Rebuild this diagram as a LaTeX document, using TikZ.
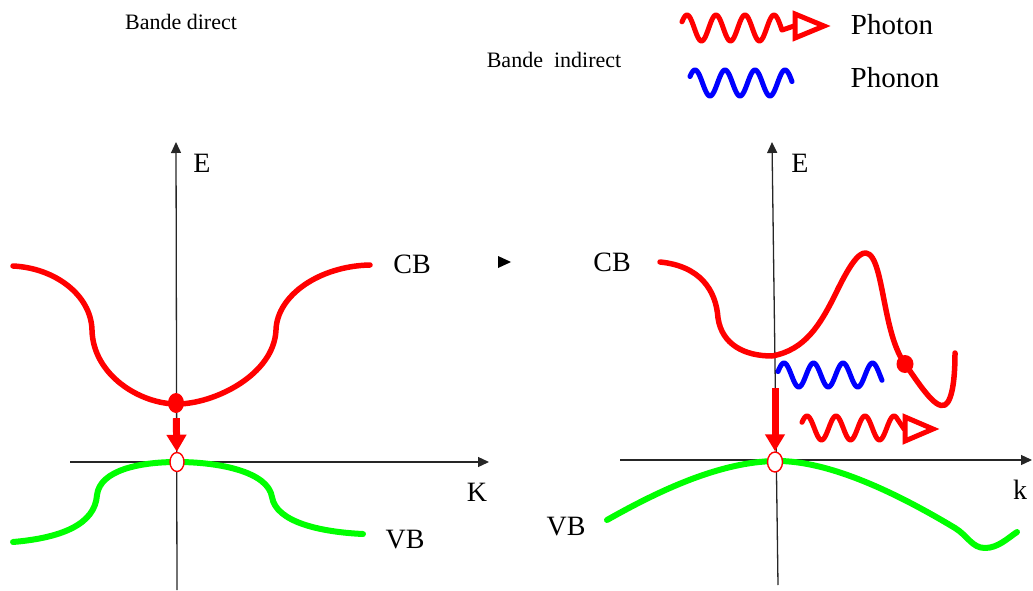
\documentclass[tikz,border=0pt]{standalone}
\usepackage{fontspec}
\setmainfont{Liberation Serif}
\usetikzlibrary{arrows.meta,shapes.geometric}
\begin{document}
\begin{tikzpicture}[x=1pt,y=-1pt,
  axis/.style={line width=1.3pt, black!85, -{Triangle[length=11pt,width=10pt]}},
  cband/.style={red, line width=5.5pt, line cap=round, line join=round},
  vband/.style={green, line width=6pt, line cap=round, line join=round},
  wave/.style={line width=5pt, line cap=round, line join=round},
  reddot/.style={ellipse, fill=red, inner sep=0pt, minimum width=16pt, minimum height=20pt},
  opencirc/.style={ellipse, draw=red, fill=white, line width=1.4pt, inner sep=0pt, minimum width=14pt, minimum height=19pt},
  redarrow/.style={draw=red, line width=7pt, -{Triangle[length=17pt,width=19pt]}},
  lbl/.style={inner sep=0pt, font=\fontsize{28}{30}\selectfont},
  title/.style={inner sep=0pt, font=\fontsize{22}{24}\selectfont},
  legend/.style={inner sep=0pt, font=\fontsize{29}{31}\selectfont}]
\useasboundingbox (0,0) rectangle (1033,591);

% ---------- titles and legend ----------
\node[title] (t1) at (181,22) {Bande direct};
\node[title] (t2) at (554,60) {Bande\ \ indirect};
\node[legend] (lp) at (892,25) {Photon};
\node[legend] (ln) at (895,78) {Phonon};
\draw[wave, red] plot[domain=682:782, samples=120] (\x,{28-13*cos(12.4138*(\x-687))}) -- (794,26);
\draw[red, line width=5pt, fill=white, line join=miter] (795,14) -- (824,26) -- (795,38) -- cycle;
\draw[wave, blue] plot[domain=690:792, samples=120] (\x,{83-13*cos(12*(\x-695))});

% ---------- left diagram ----------
\coordinate (LvB) at (177,590);
\coordinate (LvT) at (176,142);
\coordinate (LhL) at (70,462);
\coordinate (LhR) at (489,462);
\draw[axis] (LvB) -- (LvT);
\draw[axis] (LhL) -- (LhR);
\node[lbl] (EL) at (202,163) {E};
\node[lbl] (KL) at (477,492) {K};
\node[lbl] (CBL) at (412,264) {CB};
\node[lbl] (VBL) at (405,540) {VB};

\draw[cband] (13,266) .. controls (55,268) and (91,295) .. (92,330)
  .. controls (93,375) and (140,404) .. (177,404)
  .. controls (214,404) and (274,375) .. (276,330)
  .. controls (277,295) and (320,266) .. (370,265);
\draw[vband] (13,542) .. controls (60,538) and (95,525) .. (97,495)
  .. controls (100,470) and (140,462) .. (177,462)
  .. controls (220,462) and (268,472) .. (272,497)
  .. controls (276,522) and (320,532) .. (363,534);

\node[reddot] (dL) at (176,403) {};
\node[opencirc] (oL) at (177,462) {};
\draw[redarrow, shorten <=5pt] (dL) -- (oL);

% stray marker
\fill[black] (498,256) -- (511,262) -- (498,268) -- cycle;

% ---------- right diagram ----------
\coordinate (RvB) at (778,585);
\coordinate (RvT) at (772,142);
\coordinate (RhL) at (620,460);
\coordinate (RhR) at (1032,460);
\draw[axis] (RvB) -- (RvT);
\draw[axis] (RhL) -- (RhR);
\node[lbl] (ER) at (800,163) {E};
\node[lbl] (KR) at (1020,490) {k};
\node[lbl] (CBR) at (612,262) {CB};
\node[lbl] (VBR) at (566,527) {VB};

\draw[cband] (660,262) .. controls (700,266) and (716,290) .. (718,318)
  .. controls (722,345) and (745,356) .. (772,356)
  .. controls (805,350) and (820,325) .. (835,295)
  .. controls (848,268) and (858,252) .. (866,253)
  .. controls (876,254) and (880,280) .. (885,305)
  .. controls (890,330) and (895,350) .. (905,364)
  .. controls (918,382) and (935,410) .. (945,405)
  .. controls (953,400) and (955,375) .. (955,353);
\draw[vband] (607,520) .. controls (660,490) and (720,462) .. (775,461)
  .. controls (830,460) and (900,495) .. (955,528)
  .. controls (968,536) and (972,548) .. (985,548)
  .. controls (998,548) and (1008,538) .. (1017,532);

\node[reddot, minimum width=17pt, minimum height=18pt] (dR) at (905,364) {};
\draw[wave, blue] plot[domain=778:882, samples=120] (\x,{375-12*cos(12.2034*(\x-784))});
\draw[wave, red] plot[domain=802:897, samples=120] (\x,{428-12*cos(12.4138*(\x-807))}) -- (904,429);
\draw[red, line width=5pt, fill=white, line join=miter] (905,417) -- (933,429) -- (905,441) -- cycle;

\coordinate (aR) at (775,388);
\node[opencirc, minimum width=15pt, minimum height=20pt] (oR) at (775,462) {};
\draw[redarrow] (aR) -- (oR);
\end{tikzpicture}
\end{document}
